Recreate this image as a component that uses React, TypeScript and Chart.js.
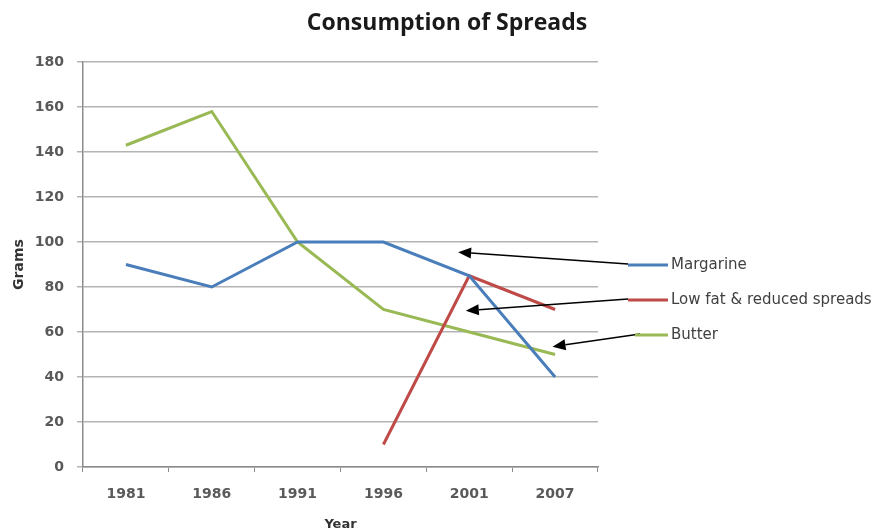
import React, { useEffect, useRef } from "react";
import { Chart, registerables } from "chart.js";

Chart.register(...registerables);

const years = ["1981", "1986", "1991", "1996", "2001", "2007"];
const margarine = [90, 80, 100, 100, 85, 40];
const lowFat = [null, null, null, 10, 85, 70];
const butter = [143, 158, 100, 70, 60, 50];
const seriesNames = ["Margarine", "Low fat & reduced spreads", "Butter"];
const seriesColors = ["#4A7EBB", "#BE4B48", "#98B954"];
const chartTitle = "Consumption of Spreads";
// annotation arrows: tip position in data space (category index, grams)
const arrowTipIndex = [3.87, 3.96, 4.97];
const arrowTipValue = [95.5, 69.5, 53.5];

const FONT = "'DejaVu Sans', sans-serif";
const TITLE_FONT = "'Open Sans', 'DejaVu Sans', sans-serif";

const legendArrows = {
  id: "legendArrows",
  afterDraw(chart: any) {
    const { ctx, chartArea, scales } = chart;
    const xs = scales.x;
    const ys = scales.y;
    ctx.save();
    // title
    ctx.fillStyle = "#1a1a1a";
    ctx.font = `bold 23px ${TITLE_FONT}`;
    ctx.textAlign = "center";
    ctx.textBaseline = "middle";
    ctx.fillText(chartTitle, chartArea.right - 151, 23);

    const lineEnd = chartArea.right + 70;
    const textX = chartArea.right + 73;
    const rowY = [265, 300, 335];
    const lineStarts = [chartArea.right + 30, chartArea.right + 30, chartArea.right + 37];
    const arrowStarts = [chartArea.right + 30, chartArea.right + 30, chartArea.right + 42];
    seriesNames.forEach((name, i) => {
      const y = rowY[i];
      const tx = xs.getPixelForValue(arrowTipIndex[i]);
      const ty = ys.getPixelForValue(arrowTipValue[i]);
      const sx = arrowStarts[i];
      const sy = y - 1;
      const ang = Math.atan2(ty - sy, tx - sx);
      const headLen = 13;
      const headW = 5.5;
      const bx = tx - headLen * Math.cos(ang);
      const by = ty - headLen * Math.sin(ang);
      ctx.strokeStyle = "#000";
      ctx.lineWidth = 1.4;
      ctx.beginPath();
      ctx.moveTo(sx, sy);
      ctx.lineTo(bx, by);
      ctx.stroke();
      ctx.fillStyle = "#000";
      ctx.beginPath();
      ctx.moveTo(tx, ty);
      ctx.lineTo(bx + headW * Math.sin(ang), by - headW * Math.cos(ang));
      ctx.lineTo(bx - headW * Math.sin(ang), by + headW * Math.cos(ang));
      ctx.closePath();
      ctx.fill();
      ctx.strokeStyle = seriesColors[i];
      ctx.lineWidth = 3;
      ctx.beginPath();
      ctx.moveTo(lineStarts[i], y);
      ctx.lineTo(lineEnd, y);
      ctx.stroke();
      ctx.fillStyle = "#404040";
      ctx.font = `15px ${FONT}`;
      ctx.textBaseline = "middle";
      ctx.textAlign = "left";
      ctx.fillText(name, textX, y);
    });
    ctx.restore();
  },
};

export default function App() {
  const ref = useRef<HTMLCanvasElement | null>(null);
  useEffect(() => {
    if (!ref.current) return;
    const chart = new Chart(ref.current, {
      type: "line",
      data: {
        labels: years,
        datasets: [margarine, lowFat, butter].map((d, i) => ({
          label: seriesNames[i],
          data: d as any,
          borderColor: seriesColors[i],
          backgroundColor: seriesColors[i],
          borderWidth: 3,
          pointRadius: 0,
          tension: 0,
          spanGaps: false,
        })),
      },
      options: {
        animation: false,
        responsive: false,
        devicePixelRatio: 1,
        layout: { padding: { left: 11, right: 286, top: 62, bottom: 0 } },
        plugins: {
          legend: { display: false },
          tooltip: { enabled: false },
          title: { display: false },
        },
        scales: {
          x: {
            offset: true,
            grid: {
              offset: true,
              drawOnChartArea: false,
              drawTicks: true,
              tickLength: 5,
              color: "#8c8c8c",
            },
            border: { color: "#8c8c8c", width: 1.5 },
            ticks: {
              color: "#595959",
              font: { family: FONT, size: 14, weight: "bold" },
              padding: 14,
              maxRotation: 0,
            },
            title: {
              display: true,
              text: "Year",
              color: "#333",
              font: { family: FONT, size: 13, weight: "bold" },
              padding: { top: 6, bottom: 0 },
            },
            afterFit(scale: any) {
              scale.height = 65;
            },
          },
          y: {
            min: 0,
            max: 180,
            grid: {
              color: "#b4b4b4",
              lineWidth: 1.5,
              tickLength: 6,
            },
            border: { color: "#8c8c8c", width: 1.5 },
            ticks: {
              stepSize: 20,
              color: "#595959",
              font: { family: FONT, size: 14, weight: "bold" },
              padding: 13,
            },
            title: {
              display: true,
              text: "Grams",
              color: "#333",
              font: { family: FONT, size: 14, weight: "bold" },
              padding: { top: 0, bottom: 4 },
            },
            afterFit(scale: any) {
              scale.width = 72;
            },
          },
        },
      },
      plugins: [legendArrows],
    });
    return () => chart.destroy();
  }, []);
  return (
    <div style={{ position: "fixed", left: 0, top: 0, width: 884, height: 532, background: "#fff" }}>
      <canvas ref={ref} width={884} height={532} style={{ width: 884, height: 532 }} />
    </div>
  );
}
